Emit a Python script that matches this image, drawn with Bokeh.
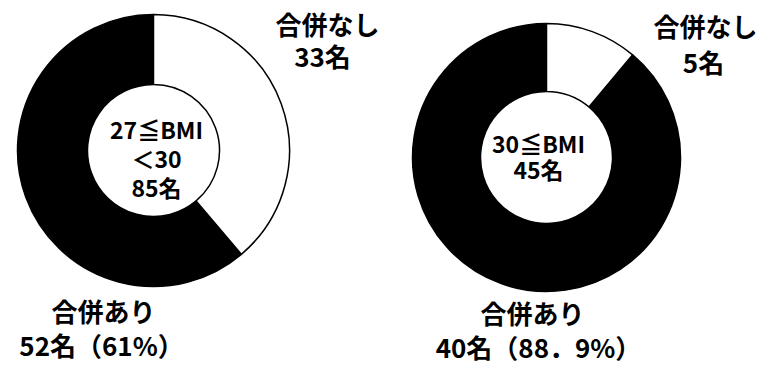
import math
from bokeh.plotting import figure
from bokeh.core.properties import value
from bokeh.embed import file_html
from bokeh.resources import INLINE

# ---- data ----
groups = ["27≦BMI<30", "30≦BMI"]
totals = [85, 45]
no_comp = [33, 5]      # 合併なし
with_comp = [52, 40]   # 合併あり
pct_labels = ["61%", "88．9%"]
center_lines = [["27≦BMI", "＜30", "85名"], ["30≦BMI", "45名"]]

# ---- layout (pixel space) ----
W, H = 762, 365
FONT = value("Noto Sans CJK JP")

p = figure(width=W, height=H, x_range=(0, W), y_range=(0, H),
           output_backend="svg", toolbar_location=None, min_border=0)
p.axis.visible = False
p.grid.visible = False
p.outline_line_color = None
p.background_fill_color = "white"

def Y(y):
    return H - y

donuts = [dict(cx=153, cy=150, ro=136, ri=66), dict(cx=546, cy=157, ro=134, ri=66)]

for i, d in enumerate(donuts):
    frac = no_comp[i] / (no_comp[i] + with_comp[i])
    top = math.pi / 2
    split = top - 2 * math.pi * frac
    # black: 合併あり
    p.annular_wedge(x=[d["cx"]], y=[Y(d["cy"])], inner_radius=d["ri"], outer_radius=d["ro"],
                    start_angle=[top], end_angle=[split + 2 * math.pi],
                    fill_color="black", line_color="black", line_width=1.5)
    # white: 合併なし
    p.annular_wedge(x=[d["cx"]], y=[Y(d["cy"])], inner_radius=d["ri"], outer_radius=d["ro"],
                    start_angle=[split], end_angle=[top],
                    fill_color="white", line_color="black", line_width=1.5)

def txt(x, y, s, size="26px"):
    p.text(x=[x], y=[Y(y)], text=[s], text_font=FONT, text_font_size=size,
           text_font_style="bold", text_align="center", text_baseline="middle",
           text_color="black")

# left chart labels
txt(327, 23, "合併なし")
txt(322, 55, f"{no_comp[0]}名")
txt(103, 310, "合併あり")
txt(101, 344, f"{with_comp[0]}名（{pct_labels[0]}）", "26px")
for s, yy in zip(center_lines[0], [128, 157, 186]):
    txt(156, yy, s, "23px")

# right chart labels
txt(705, 25, "合併なし")
txt(703, 61, f"{no_comp[1]}名")
txt(532, 312, "合併あり")
txt(538, 346, f"{with_comp[1]}名（{pct_labels[1]}）", "26px")
for s, yy in zip(center_lines[1], [142, 168]):
    txt(538, yy, s, "23px")

open("out.html", "w").write(file_html(p, INLINE))
